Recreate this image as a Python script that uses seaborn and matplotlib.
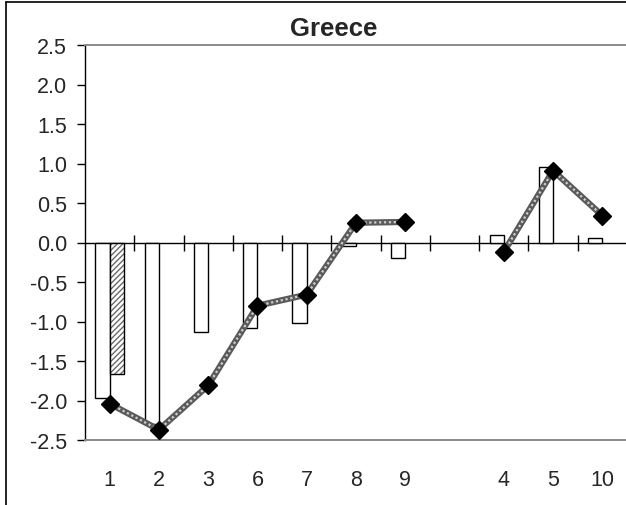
import numpy as np
import pandas as pd
import matplotlib
matplotlib.use('Agg')
import matplotlib.pyplot as plt
from matplotlib.colors import to_rgba
from matplotlib.lines import Line2D
import seaborn as sns

# categories (blank slot between 9 and 4)
categories = ['1', '2', '3', '6', '7', '8', '9', ' ', '4', '5', '10']
bars_a = [-1.97, -2.30, -1.13, -1.08, -1.02, -0.05, -0.20, np.nan, 0.10, 0.95, 0.06]
bars_b = [-1.67, np.nan, np.nan, np.nan, np.nan, np.nan, np.nan, np.nan, np.nan, np.nan, np.nan]
line_vals = [-2.04, -2.37, -1.81, -0.80, -0.66, 0.25, 0.26, np.nan, -0.12, 0.91, 0.34]
yticks = [-2.5, -2.0, -1.5, -1.0, -0.5, 0.0, 0.5, 1.0, 1.5, 2.0, 2.5]
ytick_labels = ['-2.5', '-2.0', '-1.5', '-1.0', '-0.5', '0.0', '0.5', '1.0', '1.5', '2.0', '2.5']

sns.set_style('white')
plt.rcParams['font.family'] = ['Liberation Sans', 'DejaVu Sans']
plt.rcParams['hatch.linewidth'] = 1.0

df = pd.DataFrame({
    'cat': categories * 2,
    'value': bars_a + bars_b,
    'series': ['a'] * len(categories) + ['b'] * len(categories),
})

fig = plt.figure(figsize=(6.26, 5.06), dpi=100)
ax = fig.add_axes([85 / 626, 1 - 441 / 506, 542 / 626, 395 / 506])

sns.barplot(data=df, x='cat', y='value', hue='series', order=categories,
            hue_order=['a', 'b'], palette={'a': 'white', 'b': 'white'},
            edgecolor='black', linewidth=1.0, width=0.58, errorbar=None,
            legend=False, saturation=1, ax=ax, zorder=3)

# hatch the second series
for p in ax.containers[1].patches:
    p.set_hatch('//////')
    p._hatch_color = to_rgba('#6a6a6a')

# zero line with crossing ticks at category boundaries
ax.axhline(0, color='black', lw=1.0, zorder=2)
bounds = np.arange(len(categories) + 1) - 0.5
ax.plot(bounds[1:], np.zeros(len(bounds) - 1), ls='none', marker='|',
        markersize=11, mew=1.0, color='black', zorder=2, clip_on=False)

# line series with texture
xpos = np.arange(len(categories))
ax.plot(xpos, line_vals, color='#5a5a5a', lw=4.5, zorder=4, solid_capstyle='butt')
ax.plot(xpos, line_vals, color='#cfcfcf', lw=1.6, ls=(0, (1, 1.2)), zorder=5)
ax.plot(xpos, line_vals, ls='none', marker='D', markersize=9,
        color='black', zorder=6)

ax.set_xlim(-0.5, len(categories) - 0.5)
ax.set_ylim(-2.5, 2.5)
ax.set_yticks(yticks)
ax.set_yticklabels(ytick_labels, fontsize=15.5)
ax.set_xticks(xpos)
ax.set_xticklabels(categories, fontsize=15.5)
ax.tick_params(axis='x', length=0, pad=21)
ax.tick_params(axis='y', direction='out', length=6, width=1, color='black',
               pad=7, left=True)
ax.set_xlabel('')
ax.set_ylabel('')

for s in ['top', 'bottom']:
    ax.spines[s].set_color('#8a8a8a')
    ax.spines[s].set_linewidth(1.4)
ax.spines['right'].set_visible(False)
ax.spines['left'].set_color('black')
ax.spines['left'].set_linewidth(1.0)

fig.text(334 / 626, 1 - 29 / 506, 'Greece', ha='center', va='center',
         fontsize=18.5, fontweight='bold')

# outer chart frame
fig.add_artist(Line2D([5.5 / 626, 5.5 / 626], [0, 1 - 3 / 506], color='black', lw=1.2))
fig.add_artist(Line2D([5.5 / 626, 1], [1 - 3 / 506, 1 - 3 / 506], color='black', lw=1.2))

fig.savefig('out.png', dpi=100)
